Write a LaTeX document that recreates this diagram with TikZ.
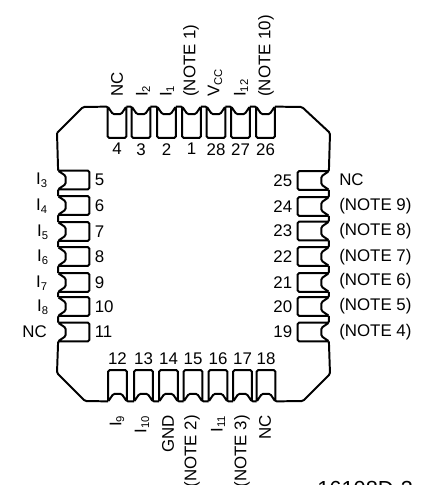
\documentclass[tikz,border=0pt]{standalone}
\usepackage{fontspec}
\setmainfont{Liberation Sans}
\usetikzlibrary{calc}

\tikzset{
	pkg/.style={line width=1.4pt,rounded corners=1pt},
	pinv/.style={minimum width=0.45cm,minimum height=0.78cm,inner sep=0pt},
	pinh/.style={minimum width=0.78cm,minimum height=0.45cm,inner sep=0pt},
	sigtop/.style={rotate=90,anchor=west,inner sep=0pt},
	sigbot/.style={rotate=90,anchor=east,inner sep=0pt},
	sigleft/.style={anchor=east,inner sep=0pt},
	sigright/.style={anchor=west,inner sep=0pt},
	pinbody/.style={to path={
		-- ($(\tikztostart)!0.28!(\tikztotarget)!0.19cm!-90:(\tikztotarget)$)
		-- ($(\tikztostart)!0.72!(\tikztotarget)!0.19cm!-90:(\tikztotarget)$)
		-- (\tikztotarget)
		-- ($(\tikztotarget)!0.78cm!90:(\tikztostart)$)
		-- ($(\tikztostart)!0.78cm!-90:(\tikztotarget)$)
		-- (\tikztostart) (\tikztotarget)}}
}

\begin{document}
\begin{tikzpicture}[x=0.025cm,y=-0.025cm,font=\fontsize{12}{14}\selectfont]
	\useasboundingbox (0,0) rectangle (422,485);

	% top row
	\node[pinv,label=below:4] (p4) at (117,122.5) {};
	\node[pinv,label=below:3] (p3) at (141,122.5) {};
	\node[pinv,label=below:2] (p2) at (166.5,122.5) {};
	\node[pinv,label=below:1] (p1) at (191.5,122.5) {};
	\node[pinv,label=below:28] (p28) at (216,122.5) {};
	\node[pinv,label=below:27] (p27) at (240.5,122.5) {};
	\node[pinv,label=below:26] (p26) at (265.5,122.5) {};

	% right row
	\node[pinh,label=left:25] (p25) at (313,180.5) {};
	\node[pinh,label=left:24] (p24) at (313,206.5) {};
	\node[pinh,label=left:23] (p23) at (313,231) {};
	\node[pinh,label=left:22] (p22) at (313,256.5) {};
	\node[pinh,label=left:21] (p21) at (313,282.5) {};
	\node[pinh,label=left:20] (p20) at (313,306.5) {};
	\node[pinh,label=left:19] (p19) at (313,332) {};

	% bottom row
	\node[pinv,label=above:12] (p12) at (117.5,385.5) {};
	\node[pinv,label=above:13] (p13) at (143.5,385.5) {};
	\node[pinv,label=above:14] (p14) at (168.5,385.5) {};
	\node[pinv,label=above:15] (p15) at (193,385.5) {};
	\node[pinv,label=above:16] (p16) at (218,385.5) {};
	\node[pinv,label=above:17] (p17) at (242.5,385.5) {};
	\node[pinv,label=above:18] (p18) at (266,385.5) {};

	% left row
	\node[pinh,label=right:5] (p5) at (74,180) {};
	\node[pinh,label=right:6] (p6) at (74,205.5) {};
	\node[pinh,label=right:7] (p7) at (74,231.5) {};
	\node[pinh,label=right:8] (p8) at (74,256.5) {};
	\node[pinh,label=right:9] (p9) at (74,282.5) {};
	\node[pinh,label=right:10] (p10) at (74,306.5) {};
	\node[pinh,label=right:11] (p11) at (74,332) {};

	\coordinate (cornerA) at (57,133);
	\coordinate (cornerB) at (83,107);
	\coordinate (cornerC) at (302,107);
	\coordinate (cornerD) at (330,133);
	\coordinate (cornerE) at (330,374);
	\coordinate (cornerF) at (303,401);
	\coordinate (cornerG) at (85,401);
	\coordinate (cornerH) at (57,373);

	\draw[pkg] (cornerA) -- (cornerB)
		-- (p4.north west) to[pinbody] (p4.north east)
		-- (p3.north west) to[pinbody] (p3.north east)
		-- (p2.north west) to[pinbody] (p2.north east)
		-- (p1.north west) to[pinbody] (p1.north east)
		-- (p28.north west) to[pinbody] (p28.north east)
		-- (p27.north west) to[pinbody] (p27.north east)
		-- (p26.north west) to[pinbody] (p26.north east)
		-- (cornerC) -- (cornerD)
		-- (p25.north east) to[pinbody] (p25.south east)
		-- (p24.north east) to[pinbody] (p24.south east)
		-- (p23.north east) to[pinbody] (p23.south east)
		-- (p22.north east) to[pinbody] (p22.south east)
		-- (p21.north east) to[pinbody] (p21.south east)
		-- (p20.north east) to[pinbody] (p20.south east)
		-- (p19.north east) to[pinbody] (p19.south east)
		-- (cornerE) -- (cornerF)
		-- (p18.south east) to[pinbody] (p18.south west)
		-- (p17.south east) to[pinbody] (p17.south west)
		-- (p16.south east) to[pinbody] (p16.south west)
		-- (p15.south east) to[pinbody] (p15.south west)
		-- (p14.south east) to[pinbody] (p14.south west)
		-- (p13.south east) to[pinbody] (p13.south west)
		-- (p12.south east) to[pinbody] (p12.south west)
		-- (cornerG) -- (cornerH)
		-- (p11.south west) to[pinbody] (p11.north west)
		-- (p10.south west) to[pinbody] (p10.north west)
		-- (p9.south west) to[pinbody] (p9.north west)
		-- (p8.south west) to[pinbody] (p8.north west)
		-- (p7.south west) to[pinbody] (p7.north west)
		-- (p6.south west) to[pinbody] (p6.north west)
		-- (p5.south west) to[pinbody] (p5.north west)
		-- (cornerA);

	\node[sigtop] (sigNCa) at (117,97) {NC};
	\node[sigtop] (sigIb) at (143,97) {I\textsubscript{2}};
	\node[sigtop] (sigIa) at (167,97) {I\textsubscript{1}};
	\node[sigtop] (sigNa) at (191,97) {(NOTE 1)};
	\node[sigtop] (sigVCC) at (215,97) {V\textsubscript{CC}};
	\node[sigtop] (sigIl) at (241,97) {I\textsubscript{12}};
	\node[sigtop] (sigNj) at (266,97) {(NOTE 10)};

	\node[sigright] (sigNCb) at (339,180) {NC};
	\node[sigright] (sigNi) at (339,206) {(NOTE 9)};
	\node[sigright] (sigNh) at (339,231) {(NOTE 8)};
	\node[sigright] (sigNg) at (339,257) {(NOTE 7)};
	\node[sigright] (sigNf) at (339,281) {(NOTE 6)};
	\node[sigright] (sigNe) at (339,306) {(NOTE 5)};
	\node[sigright] (sigNd) at (339,332) {(NOTE 4)};

	\node[sigbot] (sigIi) at (117,415) {I\textsubscript{9}};
	\node[sigbot] (sigIj) at (142,415) {I\textsubscript{10}};
	\node[sigbot] (sigGND) at (168,415) {GND};
	\node[sigbot] (sigNb) at (192,415) {(NOTE 2)};
	\node[sigbot] (sigIk) at (218,415) {I\textsubscript{11}};
	\node[sigbot] (sigNc) at (242,415) {(NOTE 3)};
	\node[sigbot] (sigNCc) at (265,415) {NC};

	\node[sigleft] (sigIc) at (48,180) {I\textsubscript{3}};
	\node[sigleft] (sigId) at (48,206) {I\textsubscript{4}};
	\node[sigleft] (sigIe) at (49,232) {I\textsubscript{5}};
	\node[sigleft] (sigIf) at (49,257) {I\textsubscript{6}};
	\node[sigleft] (sigIg) at (48,283) {I\textsubscript{7}};
	\node[sigleft] (sigIh) at (49,307) {I\textsubscript{8}};
	\node[sigleft] (sigNCd) at (47,332) {NC};

	\node[anchor=west,inner sep=0pt,font=\fontsize{15.5}{18}\selectfont] (figno) at (317,489) {16108D-3};
\end{tikzpicture}
\end{document}
